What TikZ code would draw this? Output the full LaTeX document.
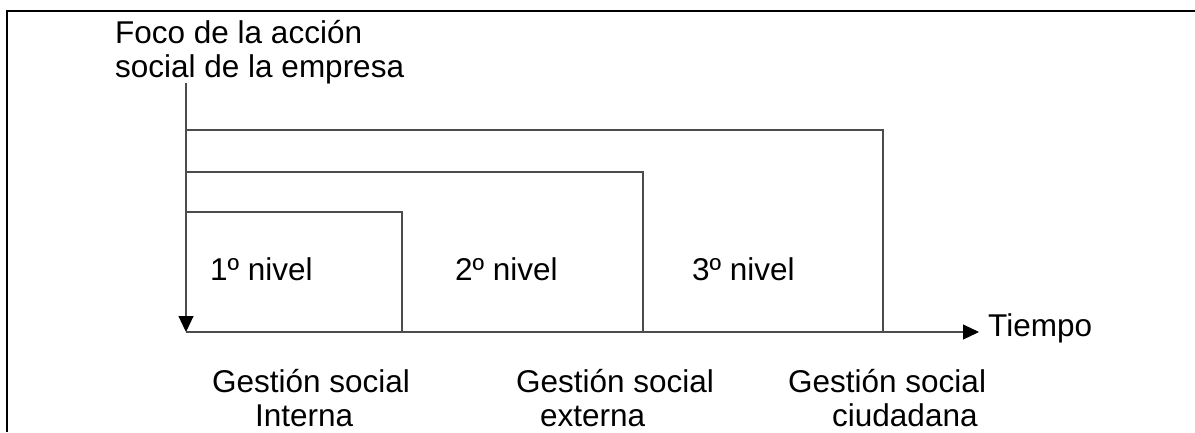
\documentclass[tikz,border=0pt]{standalone}
\usepackage{fontspec}
\setmainfont{Liberation Sans}
\usetikzlibrary{arrows.meta}
\begin{document}
\begin{tikzpicture}[x=1pt,y=-1pt,
  lbl/.style={anchor=base west,inner sep=0pt,font=\fontsize{31.5}{34}\selectfont},
  gline/.style={draw=black!70,line width=1.1pt},
  axarrow/.style={gline,-{Triangle[length=16pt,width=15pt,color=black]}},
  frame/.style={draw=black,line width=2pt}]
\useasboundingbox (0,0) rectangle (1195,432);
% frame
\coordinate (fl) at (7,432);
\coordinate (fc) at (7,11);
\coordinate (fr) at (1195,11);
\draw[frame] (fl) -- (fc) -- (fr);
% axes
\coordinate (ytop) at (186,83);
\coordinate (orig) at (186,332);
\coordinate (xend) at (979,332);
% levels
\coordinate (a1) at (186,212); \coordinate (b1) at (402,212); \coordinate (c1) at (402,332);
\coordinate (a2) at (186,172); \coordinate (b2) at (643,172); \coordinate (c2) at (643,332);
\coordinate (a3) at (186,130); \coordinate (b3) at (883,130); \coordinate (c3) at (883,332);
\draw[gline] (a1) -- (b1) -- (c1);
\draw[gline] (a2) -- (b2) -- (c2);
\draw[gline] (a3) -- (b3) -- (c3);
\draw[axarrow] (ytop) -- (orig);
\draw[axarrow] (orig) -- (xend);
% texts
\node[lbl] (foco1) at (115,43.5) {Foco de la acción};
\node[lbl] (foco2) at (115,77) {social de la empresa};
\node[lbl] (n1) at (210,280) {1º nivel};
\node[lbl] (n2) at (455,280) {2º nivel};
\node[lbl] (n3) at (692,280) {3º nivel};
\node[lbl] (tiempo) at (988,336) {Tiempo};
\node[lbl] (g1) at (212,392) {Gestión social};
\node[lbl] (g1b) at (255,426) {Interna};
\node[lbl] (g2) at (516,392) {Gestión social};
\node[lbl] (g2b) at (540,426) {externa};
\node[lbl] (g3) at (788,392) {Gestión social};
\node[lbl] (g3b) at (832,426) {ciudadana};
\end{tikzpicture}
\end{document}
